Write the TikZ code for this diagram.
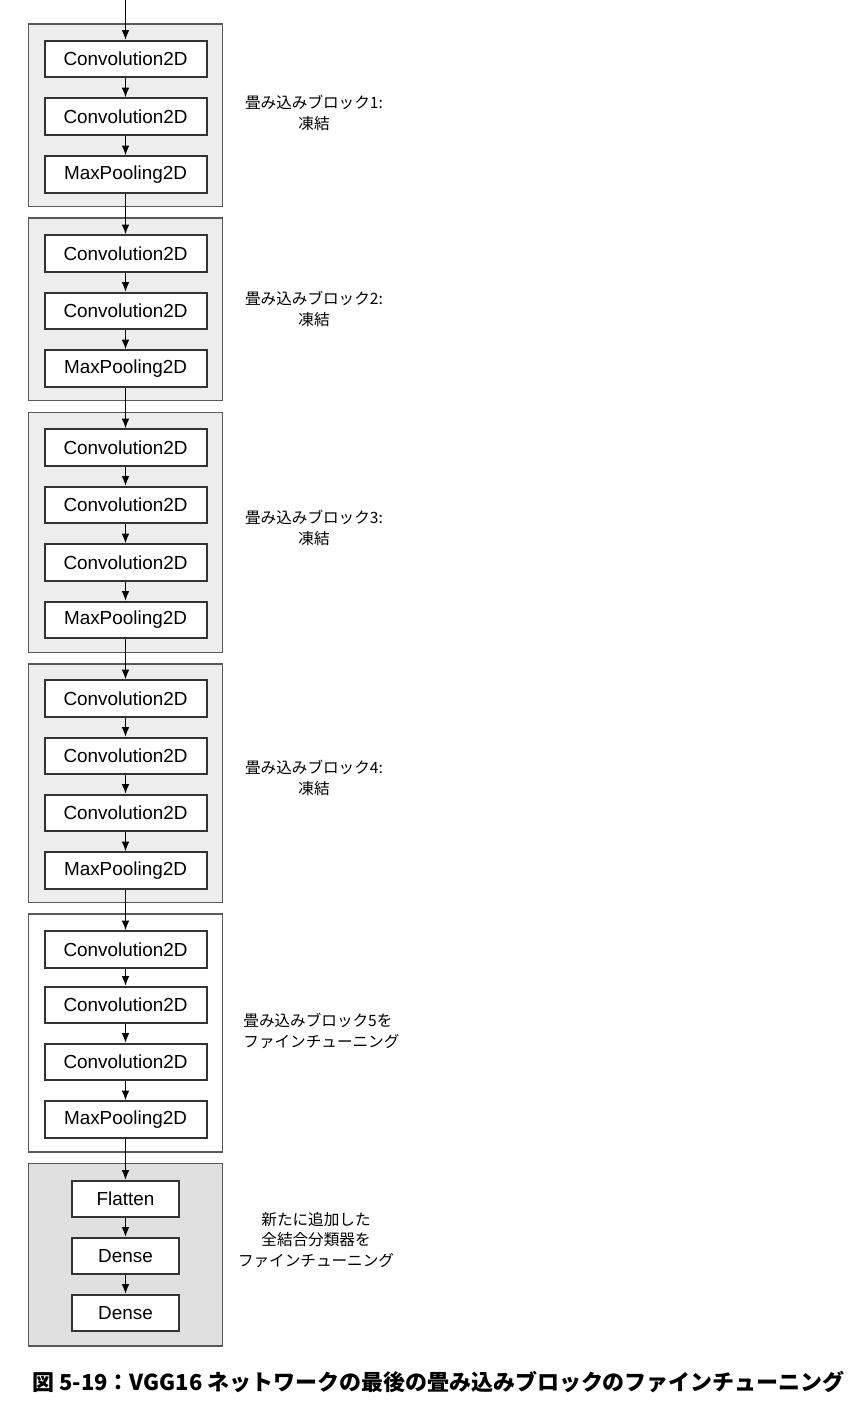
\documentclass[tikz,border=0pt]{standalone}
\usepackage{fontspec}
\setmainfont{Liberation Sans}
\newfontfamily\jpfont{Noto Sans CJK JP}
\usetikzlibrary{arrows.meta}

\begin{document}
\begin{tikzpicture}[x=0.5pt,y=-0.5pt,
	layer/.style={draw=black!80,line width=1pt,fill=white,minimum width=81pt,minimum height=18.25pt,inner sep=0pt,font=\fontsize{9.45}{11}\selectfont},
	small/.style={layer,minimum width=53.5pt},
	blk/.style={draw=black!65,line width=0.8pt,fill=black!7},
	tune/.style={blk,fill=white},
	head/.style={blk,fill=black!12},
	lbl/.style={align=center,font=\jpfont\fontsize{7.8}{10.3}\selectfont},
	flow/.style={-{Latex[length=4.8pt,width=3.8pt]},line width=0.6pt}]
			\useasboundingbox (0,0) rectangle (866,1406);
			% blocks
			\draw[blk] (28.5,24) rectangle (222.5,206.5);
			\draw[blk] (28.5,218) rectangle (222.5,400.5);
			\draw[blk] (28.5,412.5) rectangle (222.5,652.5);
			\draw[blk] (28.5,664) rectangle (222.5,902.5);
			\draw[tune] (28.5,914) rectangle (222.5,1152);
			\draw[head] (28.5,1163.5) rectangle (222.5,1346);
			% block 1
			\node[layer] (c11) at (125.5,59) {Convolution2D};
			\node[layer] (c12) at (125.5,116.5) {Convolution2D};
			\node[layer] (p1) at (125.5,174.5) {MaxPooling2D};
			% block 2
			\node[layer] (c21) at (125.5,253.5) {Convolution2D};
			\node[layer] (c22) at (125.5,311) {Convolution2D};
			\node[layer] (p2) at (125.5,368.5) {MaxPooling2D};
			% block 3
			\node[layer] (c31) at (125.5,447.5) {Convolution2D};
			\node[layer] (c32) at (125.5,505) {Convolution2D};
			\node[layer] (c33) at (125.5,562.5) {Convolution2D};
			\node[layer] (p3) at (125.5,620) {MaxPooling2D};
			% block 4
			\node[layer] (c41) at (125.5,698.5) {Convolution2D};
			\node[layer] (c42) at (125.5,756) {Convolution2D};
			\node[layer] (c43) at (125.5,813) {Convolution2D};
			\node[layer] (p4) at (125.5,870.5) {MaxPooling2D};
			% block 5
			\node[layer] (c51) at (125.5,949.5) {Convolution2D};
			\node[layer] (c52) at (125.5,1005) {Convolution2D};
			\node[layer] (c53) at (125.5,1062) {Convolution2D};
			\node[layer] (p5) at (125.5,1119.5) {MaxPooling2D};
			% classifier
			\node[small] (fl) at (125.5,1199) {Flatten};
			\node[small] (d1) at (125.5,1256) {Dense};
			\node[small] (d2) at (125.5,1313) {Dense};
			% arrows
			\coordinate (in) at (125.5,0);
			\draw[flow] (in) -- (c11);
			\foreach \a/\b in {c11/c12,c12/p1,p1/c21,c21/c22,c22/p2,p2/c31,c31/c32,c32/c33,c33/p3,p3/c41,c41/c42,c42/c43,c43/p4,p4/c51,c51/c52,c52/c53,c53/p5,p5/fl,fl/d1,d1/d2}
				\draw[flow] (\a) -- (\b);
			% labels
			\node[lbl] (t1) at (314,113) {畳み込みブロック1:\\凍結};
			\node[lbl] (t2) at (314,309) {畳み込みブロック2:\\凍結};
			\node[lbl] (t3) at (314,528) {畳み込みブロック3:\\凍結};
			\node[lbl] (t4) at (314,778) {畳み込みブロック4:\\凍結};
			\node[lbl,align=left,anchor=west,inner sep=0pt] (t5) at (243,1031) {畳み込みブロック5を\\ファインチューニング};
			\node[lbl] (t6) at (316,1240) {新たに追加した\\全結合分類器を\\ファインチューニング};
			% caption
			\node[anchor=west,inner sep=0pt,font=\jpfont\bfseries\fontsize{10.98}{13}\selectfont] (cap) at (32,1382) {図 5-19：VGG16 ネットワークの最後の畳み込みブロックのファインチューニング};
		\end{tikzpicture}
\end{document}
